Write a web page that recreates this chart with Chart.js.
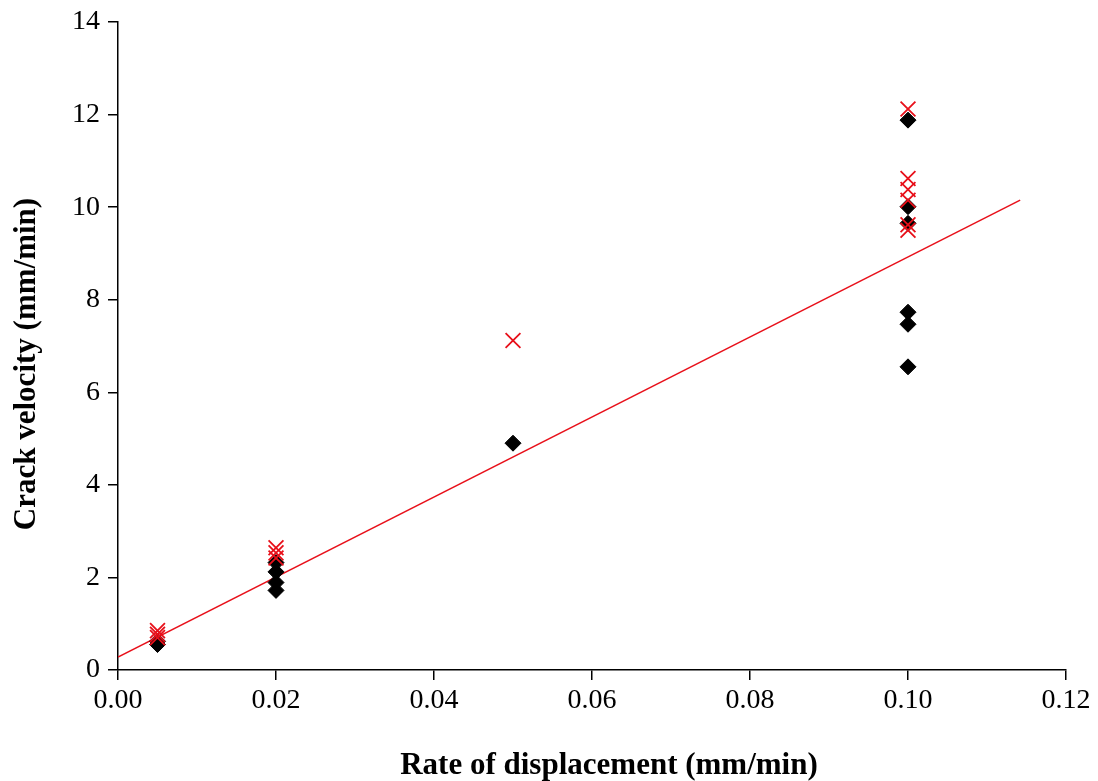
<!DOCTYPE html>
<html>
<head>
<meta charset="utf-8">
<script src="https://cdn.jsdelivr.net/npm/chart.js@4"></script>
<style>
html,body{margin:0;padding:0;background:#fff;}
#wrap{width:1098px;height:781px;}
</style>
</head>
<body>
<div id="wrap"><canvas id="c" width="1098" height="781"></canvas></div>
<script>
// Experimental crack velocity (black diamonds)
const diamondX = [0.005, 0.005, 0.02, 0.02, 0.02, 0.02, 0.05, 0.1, 0.1, 0.1, 0.1, 0.1, 0.1];
const diamondY = [0.62, 0.55, 2.32, 2.12, 1.89, 1.72, 4.90, 11.88, 10.01, 9.65, 7.73, 7.47, 6.55];
// Second set (red crosses)
const crossX = [0.005, 0.005, 0.005, 0.02, 0.02, 0.02, 0.05, 0.1, 0.1, 0.1, 0.1, 0.1, 0.1];
const crossY = [0.85, 0.77, 0.70, 2.64, 2.53, 2.42, 7.12, 12.12, 10.62, 10.38, 10.15, 9.62, 9.50];
// Linear fit line endpoints
const fitX = [0.0, 0.1142];
const fitY = [0.28, 10.15];
// Tick values
const xTicks = [0, 0.02, 0.04, 0.06, 0.08, 0.10, 0.12];
const yTicks = [0, 2, 4, 6, 8, 10, 12, 14];
// Axis titles
const xTitle = 'Rate of displacement (mm/min)';
const yTitle = 'Crack velocity (mm/min)';

const toPts = (xs, ys) => xs.map((x, i) => ({x: x, y: ys[i]}));

const serif = "'Liberation Serif', 'Times New Roman', serif";

const titlePlugin = {
  id: 'axisTitles',
  afterDraw(chart) {
    const ctx = chart.ctx;
    const ca = chart.chartArea;
    ctx.save();
    ctx.fillStyle = '#000';
    ctx.font = 'bold 31px ' + serif;
    ctx.textAlign = 'center';
    ctx.textBaseline = 'alphabetic';
    ctx.fillText(xTitle, (ca.left + ca.right) / 2 + 17, 774);
    ctx.translate(35, (ca.top + ca.bottom) / 2 + 18);
    ctx.rotate(-Math.PI / 2);
    ctx.fillText(yTitle, 0, 0);
    ctx.restore();
  }
};

new Chart(document.getElementById('c'), {
  type: 'scatter',
  data: {
    datasets: [
      {
        label: 'Fit',
        type: 'line',
        data: toPts(fitX, fitY),
        borderColor: '#e8101a',
        borderWidth: 1.5,
        pointRadius: 0,
        fill: false,
        tension: 0,
        order: 3
      },
      {
        label: 'Diamonds',
        data: toPts(diamondX, diamondY),
        pointStyle: 'rectRot',
        pointRadius: 8,
        backgroundColor: '#000',
        borderColor: '#000',
        borderWidth: 1,
        order: 2
      },
      {
        label: 'Crosses',
        data: toPts(crossX, crossY),
        pointStyle: 'crossRot',
        pointRadius: 10.5,
        borderColor: '#e8101a',
        backgroundColor: '#e8101a',
        borderWidth: 1.8,
        order: 1
      }
    ]
  },
  plugins: [titlePlugin],
  options: {
    responsive: false,
    animation: false,
    devicePixelRatio: 1,
    layout: { padding: { left: 0, right: 32, top: 22, bottom: 0 } },
    plugins: { legend: { display: false }, tooltip: { enabled: false } },
    scales: {
      x: {
        type: 'linear',
        min: 0, max: 0.12,
        afterFit: (s) => { s.height = 111; },
        afterBuildTicks: (s) => { s.ticks = xTicks.map(v => ({value: v})); },
        border: { display: true, color: '#000', width: 1.5 },
        grid: { display: true, drawOnChartArea: false, drawTicks: true, tickLength: 10, color: '#000', lineWidth: 1.5 },
        ticks: {
          color: '#000',
          font: { family: serif, size: 28 },
          padding: 4,
          maxRotation: 0,
          callback: (v) => Number(v).toFixed(2)
        },
        title: { display: false }
      },
      y: {
        type: 'linear',
        min: 0, max: 14,
        afterFit: (s) => { s.width = 118; s.paddingTop = 0; s.paddingBottom = 0; },
        afterBuildTicks: (s) => { s.ticks = yTicks.map(v => ({value: v})); },
        border: { display: true, color: '#000', width: 1.5 },
        grid: { display: true, drawOnChartArea: false, drawTicks: true, tickLength: 10, color: '#000', lineWidth: 1.5 },
        ticks: {
          color: '#000',
          font: { family: serif, size: 28, lineHeight: 1.0 },
          padding: 8,
          callback: (v) => String(v)
        },
        title: { display: false }
      }
    }
  }
});
</script>
</body>
</html>
